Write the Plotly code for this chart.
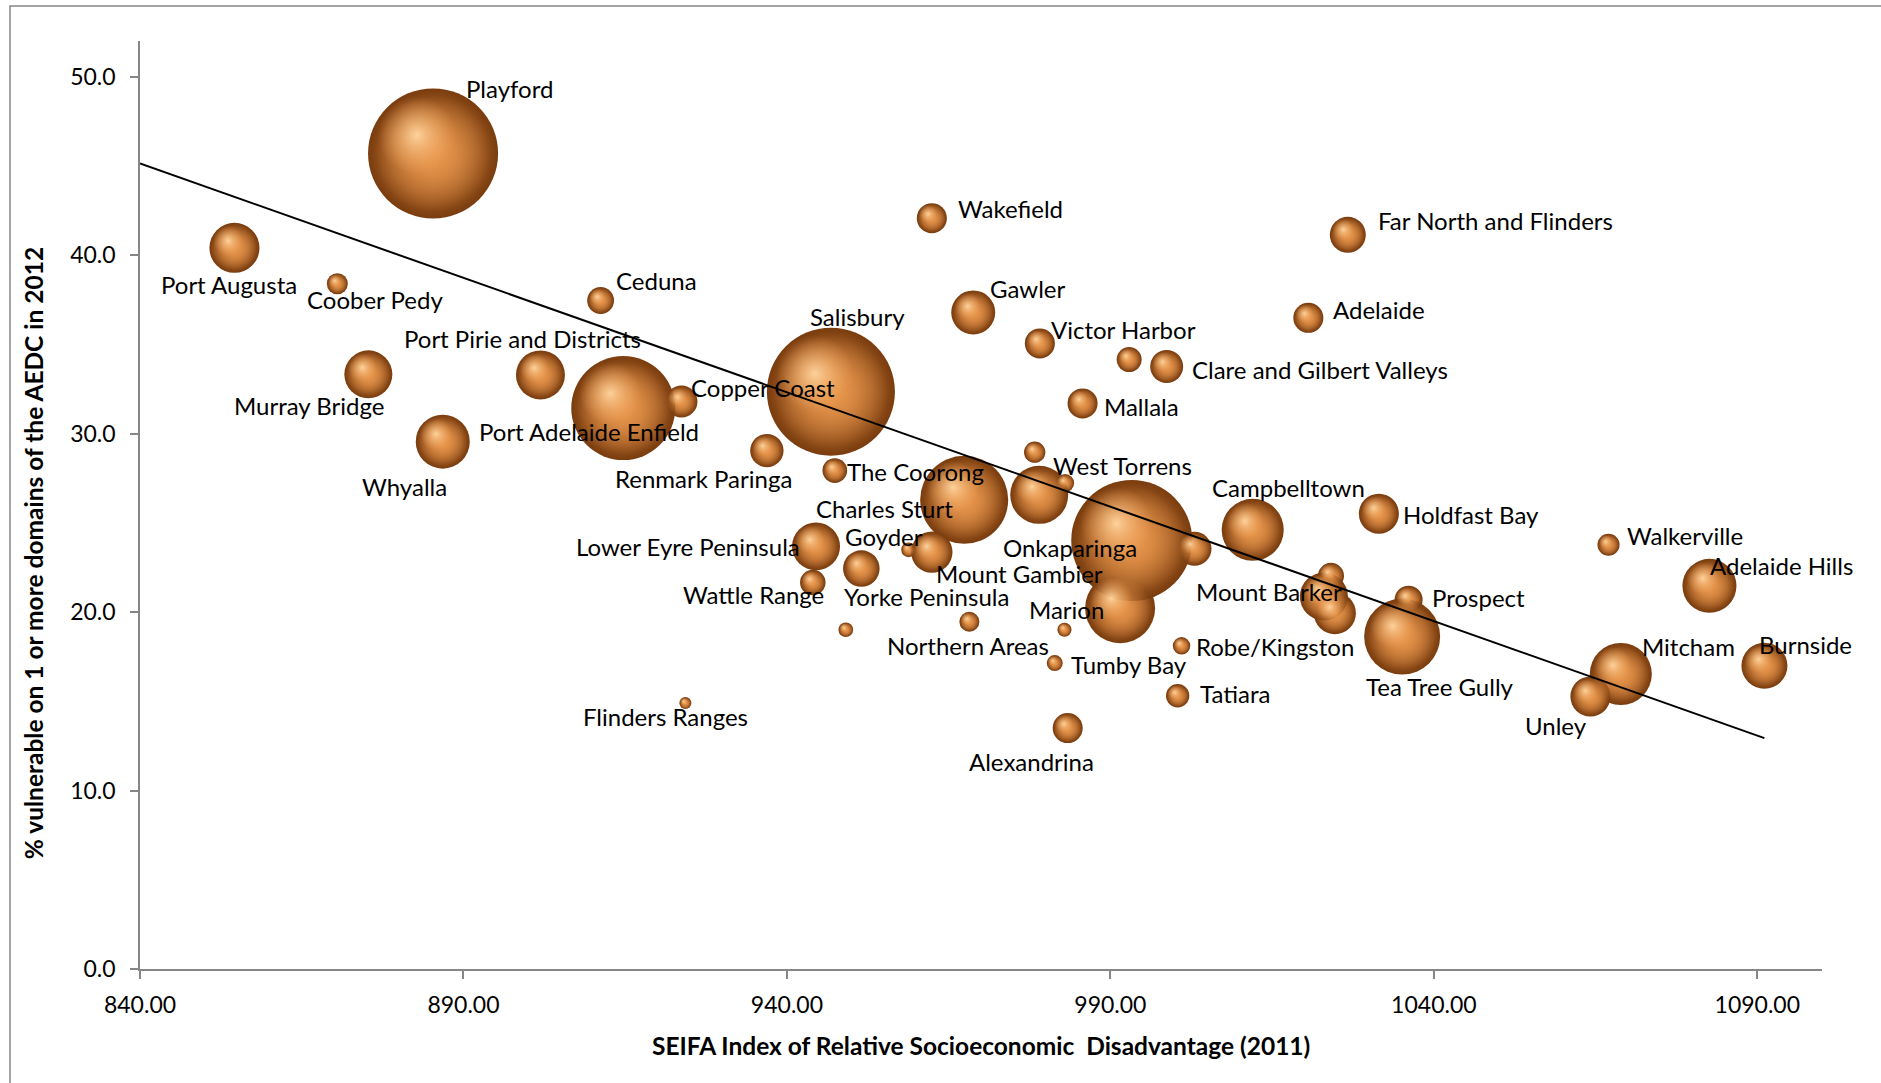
import numpy as np
import plotly.graph_objects as go

# ---------------- data ----------------
names = [
    "Playford", "Port Augusta", "Coober Pedy", "Ceduna", "Murray Bridge",
    "Port Pirie and Districts", "Copper Coast", "Port Adelaide Enfield", "Whyalla",
    "Renmark Paringa", "Salisbury", "The Coorong", "Wakefield", "Gawler",
    "Victor Harbor", "", "Clare and Gilbert Valleys", "Mallala", "", "Charles Sturt",
    "", "West Torrens", "", "Marion", "Onkaparinga", "Campbelltown", "",
    "Northern Areas", "Tumby Bay", "Alexandrina", "Robe/Kingston", "Tatiara",
    "Goyder", "Mount Gambier", "Yorke Peninsula", "Lower Eyre Peninsula",
    "Wattle Range", "", "Flinders Ranges", "Holdfast Bay", "", "", "Mount Barker",
    "Prospect", "Tea Tree Gully", "Walkerville", "Adelaide Hills", "Mitcham",
    "Unley", "Burnside", "Far North and Flinders", "Adelaide",
]
seifa = [
    885.3, 854.6, 870.5, 911.2, 875.3,
    901.9, 923.7, 914.7, 886.8,
    936.9, 946.8, 947.4, 962.4, 968.8,
    979.1, 992.9, 998.7, 985.7, 978.3, 967.4,
    983.0, 979.0, 1003.0, 991.5, 993.3, 1012.0, 982.9,
    968.2, 981.4, 983.4, 1001.0, 1000.4,
    958.8, 962.4, 951.5, 944.5,
    944.0, 949.1, 924.3, 1031.5, 1024.1, 1024.7, 1023.0,
    1036.1, 1035.1, 1067.0, 1082.6, 1068.9,
    1064.2, 1091.1, 1026.7, 1020.6,
]
vulnerable = [
    45.70, 40.41, 38.40, 37.46, 33.32,
    33.29, 31.80, 31.43, 29.55,
    29.05, 32.35, 27.93, 42.07, 36.79,
    35.05, 34.15, 33.76, 31.69, 28.96, 26.29,
    27.23, 26.57, 23.55, 20.22, 24.01, 24.61, 19.01,
    19.46, 17.14, 13.50, 18.11, 15.31,
    23.49, 23.36, 22.44, 23.68,
    21.66, 19.01, 14.90, 25.51, 22.03, 19.94, 20.87,
    20.69, 18.63, 23.77, 21.47, 16.53,
    15.27, 16.99, 41.14, 36.49,
]
children = [
    2113, 313, 55, 90, 288,
    300, 128, 1352, 365,
    139, 2048, 76, 113, 242,
    113, 78, 136, 113, 57, 968,
    41, 421, 145, 613, 1830, 481, 25,
    50, 32, 113, 38, 68,
    27, 214, 167, 288,
    81, 27, 18, 200, 85, 221, 288,
    98, 722, 61, 365, 481,
    200, 265, 162, 113,
]
# linear trendline as drawn in the reference (start / end points)
trend_x = [840.0, 1091.1]
trend_y = [45.14, 12.94]

x_ticks = [840, 890, 940, 990, 1040, 1090]
y_ticks = [0, 10, 20, 30, 40, 50]
x_title = "SEIFA Index of Relative Socioeconomic  Disadvantage (2011)"
y_title = "% vulnerable on 1 or more domains of the AEDC in 2012"

# ---------------- styling ----------------
# label placement relative to bubble centre, in screen pixels (dx right, dy down)
label_offset = {
    "Playford": (76, -65), "Port Augusta": (-5, 37), "Coober Pedy": (38, 16),
    "Ceduna": (56, -20), "Murray Bridge": (-59, 31),
    "Port Pirie and Districts": (-18, -36), "Copper Coast": (82, -14),
    "Port Adelaide Enfield": (-34, 23), "Whyalla": (-38, 45),
    "Renmark Paringa": (-63, 28), "Salisbury": (27, -75), "The Coorong": (81, 1),
    "Wakefield": (79, -10), "Gawler": (55, -24), "Victor Harbor": (84, -14),
    "Clare and Gilbert Valleys": (153, 3), "Mallala": (59, 3),
    "Charles Sturt": (-80, 9), "West Torrens": (83, -29), "Marion": (-54, 1),
    "Onkaparinga": (-62, 7), "Campbelltown": (36, -42), "Northern Areas": (-1, 24),
    "Tumby Bay": (74, 1), "Alexandrina": (-36, 33), "Robe/Kingston": (93, 1),
    "Tatiara": (57, -2), "Goyder": (-25, -13), "Mount Gambier": (88, 21),
    "Yorke Peninsula": (65, 28), "Lower Eyre Peninsula": (-128, 0),
    "Wattle Range": (-59, 12), "Flinders Ranges": (-20, 13), "Holdfast Bay": (92, 1),
    "Mount Barker": (-55, -5), "Prospect": (70, -2), "Tea Tree Gully": (38, 50),
    "Walkerville": (76, -9), "Adelaide Hills": (72, -20), "Mitcham": (68, -28),
    "Unley": (-34, 29), "Burnside": (41, -21), "Far North and Flinders": (148, -14),
    "Adelaide": (71, -8),
}

W, H = 1881, 1083
M = dict(l=140, r=59, t=41, b=114)
XR = [840, 1100]
YR = [0, 52]
plotW = W - M["l"] - M["r"]
plotH = H - M["t"] - M["b"]
px_per_x = plotW / (XR[1] - XR[0])
px_per_y = plotH / (YR[1] - YR[0])
SIZEREF = 0.25
FONT = "Lato, 'Open Sans', sans-serif"
AXIS_GREY = "#868686"
LABEL_SIZE = 24
TICK_SIZE = 23
TITLE_SIZE = 24.5

sizes = np.array(children, dtype=float)
xs = np.array(seifa, dtype=float)
ys = np.array(vulnerable, dtype=float)
# plotly area-mode bubbles: diameter = sqrt(2 * size / sizeref)
radius_px = np.sqrt(2.0 * sizes / SIZEREF) / 2.0

fig = go.Figure()

# NOTE: for radial gradients plotly uses gradient.color at the centre and
# marker.color at the edge.
# base sphere: orange centre fading to a dark brown rim
fig.add_trace(go.Scatter(
    x=xs, y=ys, mode="markers", text=names, hoverinfo="text+x+y",
    marker=dict(size=sizes, sizemode="area", sizeref=SIZEREF, opacity=1,
                color="#7A3C0E", line=dict(width=0),
                gradient=dict(type="radial", color="#E8964C")),
    showlegend=False,
))
# body fill keeping the sphere orange until close to the rim
fig.add_trace(go.Scatter(
    x=xs, y=ys, mode="markers", hoverinfo="skip",
    marker=dict(size=sizes * 0.80, sizemode="area", sizeref=SIZEREF, opacity=1,
                color="rgba(230,148,74,0)", line=dict(width=0),
                gradient=dict(type="radial", color="rgba(230,148,74,1)")),
    showlegend=False,
))
# specular highlight, shifted up-left
fig.add_trace(go.Scatter(
    x=xs - 0.25 * radius_px / px_per_x, y=ys + 0.28 * radius_px / px_per_y,
    mode="markers", hoverinfo="skip",
    marker=dict(size=sizes * 0.36, sizemode="area", sizeref=SIZEREF, opacity=1,
                color="rgba(240,165,95,0)", line=dict(width=0),
                gradient=dict(type="radial", color="rgba(255,214,160,0.95)")),
    showlegend=False,
))

# trendline
fig.add_trace(go.Scatter(
    x=trend_x, y=trend_y, mode="lines",
    line=dict(color="#000000", width=2), hoverinfo="skip", showlegend=False,
))

annotations = []
for n, x, y in zip(names, seifa, vulnerable):
    if not n:
        continue
    dx, dy = label_offset.get(n, (0, 0))
    annotations.append(dict(
        x=x, y=y, xref="x", yref="y", text=n, showarrow=False,
        xshift=dx, yshift=-dy, xanchor="center", yanchor="middle",
        font=dict(family=FONT, size=LABEL_SIZE, color="#000000"),
    ))

# axis titles
annotations.append(dict(
    x=(980.7 - M["l"]) / plotW, y=((H - M["b"]) - 1045) / plotH,
    xref="paper", yref="paper", text="<b>" + x_title + "</b>", showarrow=False,
    xanchor="center", yanchor="middle",
    font=dict(family=FONT, size=TITLE_SIZE, color="#000000"),
))
annotations.append(dict(
    x=(33.6 - M["l"]) / plotW, y=((H - M["b"]) - 553.6) / plotH,
    xref="paper", yref="paper", text="<b>" + y_title + "</b>", showarrow=False,
    textangle=-90, xanchor="center", yanchor="middle",
    font=dict(family=FONT, size=TITLE_SIZE, color="#000000"),
))

fig.update_layout(
    width=W, height=H, margin=M,
    paper_bgcolor="white", plot_bgcolor="white",
    font=dict(family=FONT, size=TICK_SIZE, color="#000000"),
    annotations=annotations,
    shapes=[dict(
        type="rect", xref="paper", yref="paper",
        x0=(10 - M["l"]) / plotW, x1=(W + 20 - M["l"]) / plotW,
        y0=((H - M["b"]) - (H + 20)) / plotH, y1=((H - M["b"]) - 6) / plotH,
        line=dict(color=AXIS_GREY, width=1.5), fillcolor="rgba(0,0,0,0)",
        layer="below",
    )],
    hovermode="closest",
)
fig.update_xaxes(
    range=XR, tickvals=x_ticks, ticktext=[f"{v:.2f}" for v in x_ticks],
    showgrid=False, zeroline=False, showline=True, linecolor=AXIS_GREY,
    linewidth=1.5, ticks="outside", ticklen=8, tickcolor=AXIS_GREY,
    tickwidth=1.5, ticklabelstandoff=7,
    tickfont=dict(family=FONT, size=TICK_SIZE, color="#000000"),
)
fig.update_yaxes(
    range=YR, tickvals=y_ticks, ticktext=[f"{v:.1f}" for v in y_ticks],
    showgrid=False, zeroline=False, showline=True, linecolor=AXIS_GREY,
    linewidth=1.5, ticks="outside", ticklen=8, tickcolor=AXIS_GREY,
    tickwidth=1.5, ticklabelstandoff=10,
    tickfont=dict(family=FONT, size=TICK_SIZE, color="#000000"),
)

fig.write_html("out.html")
